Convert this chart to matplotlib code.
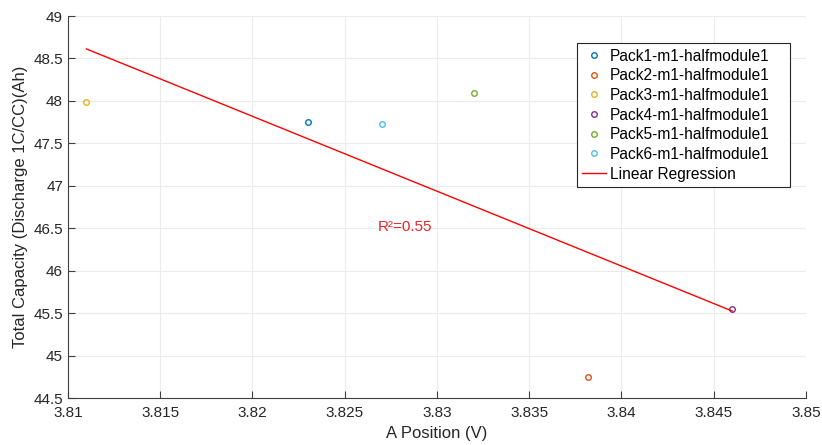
import matplotlib.pyplot as plt
import numpy as np

packs = ['Pack1-m1-halfmodule1', 'Pack2-m1-halfmodule1', 'Pack3-m1-halfmodule1',
         'Pack4-m1-halfmodule1', 'Pack5-m1-halfmodule1', 'Pack6-m1-halfmodule1']
a_pos = [3.823, 3.8382, 3.811, 3.846, 3.832, 3.827]
capacity = [47.755, 44.75, 47.985, 45.55, 48.095, 47.73]
colors = ['#0072BD', '#D95319', '#EDB120', '#7E2F8E', '#77AC30', '#4DBEEE']

plt.rcParams['font.family'] = ['Liberation Sans', 'DejaVu Sans']

fig = plt.figure(figsize=(8.22, 4.45), dpi=100)
ax = fig.add_axes([0.0827, 0.1056, 0.8978, 0.8584])

for name, x, y, c in zip(packs, a_pos, capacity, colors):
    ax.plot(x, y, 'o', mfc='none', mec=c, ms=4, mew=1, label=name)

# linear fit over all packs
xs = np.array(a_pos)
ys = np.array(capacity)
p = np.polyfit(xs, ys, 1)
xl = np.array([xs.min(), xs.max()])
ax.plot(xl, np.polyval(p, xl), color='#FF0000', lw=1, label='Linear Regression')
ax.text(3.8268, 46.515, 'R²=0.55', color='#E8262B', fontsize=11, va='center')

ax.set_xlim(3.81, 3.85)
ax.set_ylim(44.5, 49)
ax.set_xticks(np.arange(3.81, 3.8501, 0.005))
ax.set_xticklabels(['3.81', '3.815', '3.82', '3.825', '3.83', '3.835', '3.84', '3.845', '3.85'])
ax.set_yticks(np.arange(44.5, 49.01, 0.5))
ax.set_yticklabels(['44.5', '45', '45.5', '46', '46.5', '47', '47.5', '48', '48.5', '49'])
ax.grid(True, color='#EBEBEB', lw=0.8)
ax.set_axisbelow(True)
for s in ['top', 'right']:
    ax.spines[s].set_visible(False)
for s in ['left', 'bottom']:
    ax.spines[s].set_color('#404040')
ax.tick_params(direction='in', length=5, colors='#404040', labelsize=11, labelcolor='#262626')
ax.tick_params(axis='x', pad=6)
ax.set_xlabel('A Position (V)', fontsize=12, color='#262626')
ax.set_ylabel('Total Capacity (Discharge 1C/CC)(Ah)', fontsize=12, color='#262626')

leg = ax.legend(loc='upper left', bbox_to_anchor=(0.702, 0.5, 0.259, 0.403),
                bbox_transform=fig.transFigure, mode='expand',
                fontsize=11.2, fancybox=False, edgecolor='#262626', framealpha=1,
                handlelength=1.5, handletextpad=0.25, borderpad=0.35, labelspacing=0.3,
                borderaxespad=0)
leg.get_frame().set_linewidth(0.8)

fig.savefig('out.png', dpi=100)
